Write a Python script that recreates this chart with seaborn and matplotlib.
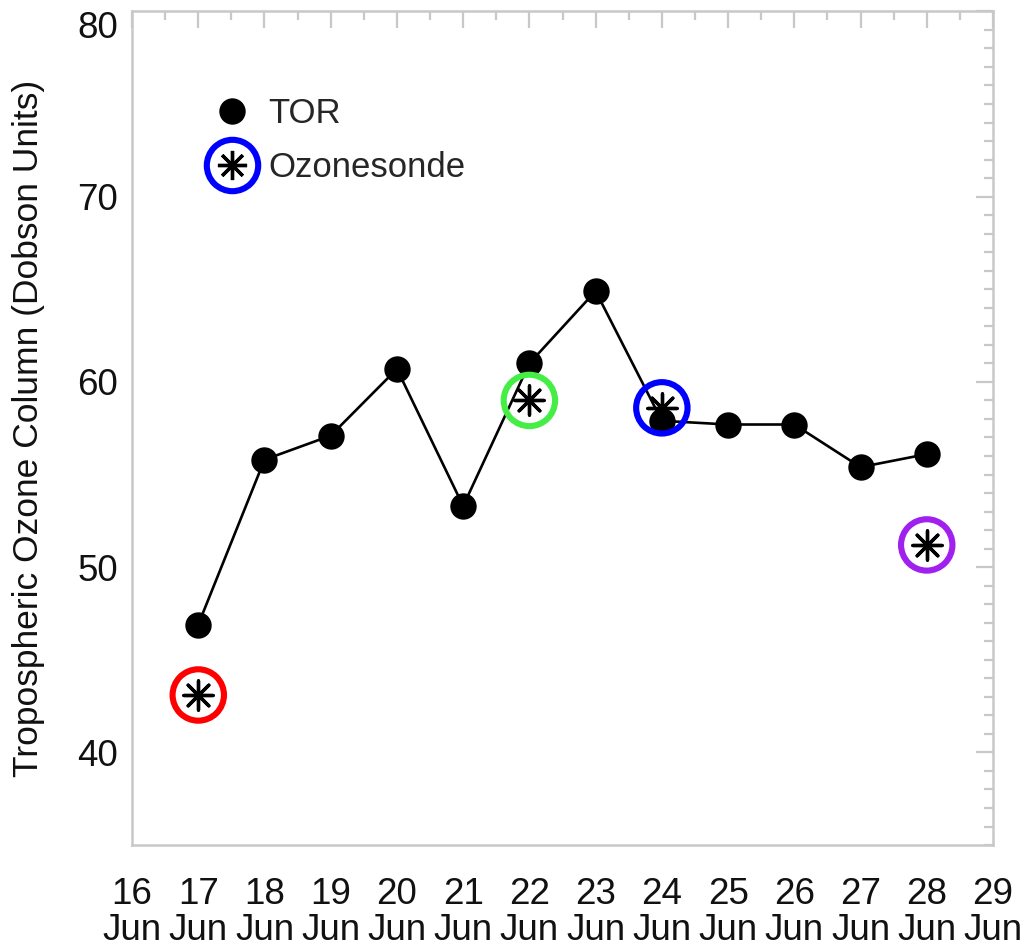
import numpy as np
import pandas as pd
import seaborn as sns
import matplotlib.pyplot as plt
from matplotlib.lines import Line2D
from matplotlib.legend_handler import HandlerTuple
from matplotlib.ticker import MultipleLocator

# TOR daily values (day of June)
tor_days = [17, 18, 19, 20, 21, 22, 23, 24, 25, 26, 27, 28]
tor_vals = [46.9, 55.8, 57.1, 60.7, 53.3, 61.0, 64.9, 57.9, 57.7, 57.7, 55.4, 56.1]

# ozonesonde launches
sonde_days = [17, 22, 24, 28]
sonde_vals = [43.1, 59.0, 58.6, 51.2]
sonde_colors = ['#ff0000', '#44ee44', '#0000ff', '#a020f0']

tick_days = list(range(16, 30))
tick_labels = [f'{d}\nJun' for d in tick_days]

sns.set_style("white")
plt.rcParams['font.family'] = ['Liberation Sans', 'DejaVu Sans']

tor = pd.DataFrame({'day': tor_days, 'ozone': tor_vals})
sonde = pd.DataFrame({'day': sonde_days, 'ozone': sonde_vals, 'site': sonde_colors})

fig = plt.figure(figsize=(10.26, 9.48), dpi=100)
ax = fig.add_axes([0.1287, 0.1086, 0.8391, 0.8794])

sns.lineplot(data=tor, x='day', y='ozone', ax=ax, color='black', lw=1.9,
             marker='o', markersize=19, markeredgewidth=0, errorbar=None, zorder=3)
sns.scatterplot(data=sonde, x='day', y='ozone', ax=ax, marker=(8, 2, 0),
                s=21 ** 2, color='black', linewidth=2.4, zorder=4)
# coloured rings round each sonde point
n0 = len(ax.collections)
sns.scatterplot(data=sonde, x='day', y='ozone', hue='site', palette=sonde_colors,
                ax=ax, marker='o', s=37 ** 2, linewidth=4.4, legend=False, zorder=5)
rings = ax.collections[n0]
rings.set_edgecolors(sonde_colors)
rings.set_facecolor('none')

ax.set_xlim(16, 29)
ax.set_ylim(35, 80)
ax.set_xticks(tick_days)
ax.set_xticklabels(tick_labels, linespacing=1.05)
ax.set_yticks([40, 50, 60, 70, 80])
ax.xaxis.set_minor_locator(MultipleLocator(0.5))
ax.yaxis.set_minor_locator(MultipleLocator(1))

grey = '#c8c8c8'
for sp in ax.spines.values():
    sp.set_color(grey)
    sp.set_linewidth(1.8)
ax.tick_params(which='both', direction='in', top=True, right=True, color=grey,
               width=1.6, labelsize=26.5, labelcolor='#111111')
ax.tick_params(which='major', length=12)
ax.tick_params(which='minor', length=6.5)
ax.tick_params(axis='x', which='major', pad=23)
ax.tick_params(axis='y', which='major', pad=10)
ax.get_yticklabels()[-1].set_va('top')

ax.set_xlabel('')
ax.set_ylabel('Tropospheric Ozone Column (Dobson Units)', fontsize=25.5, color='#111111')
ax.yaxis.set_label_coords(-0.101, 0.5)

h_tor = Line2D([], [], ls='none', marker='o', color='black', markersize=19, markeredgewidth=0)
h_ast = Line2D([], [], ls='none', marker=(8, 2, 0), color='black', markersize=21, markeredgewidth=2.4)
h_ring = Line2D([], [], ls='none', marker='o', markerfacecolor='none', markeredgecolor='#0000ff',
                markersize=37, markeredgewidth=4.4)
ax.legend([h_tor, (h_ast, h_ring)], ['TOR', 'Ozonesonde'],
          handler_map={tuple: HandlerTuple(ndivide=1, pad=0)},
          loc='upper left', bbox_to_anchor=(0.080, 0.914), frameon=False,
          fontsize=25, handlelength=1.0, handletextpad=0.55, labelspacing=0.62,
          borderaxespad=0)

fig.savefig('out.png', dpi=100)
